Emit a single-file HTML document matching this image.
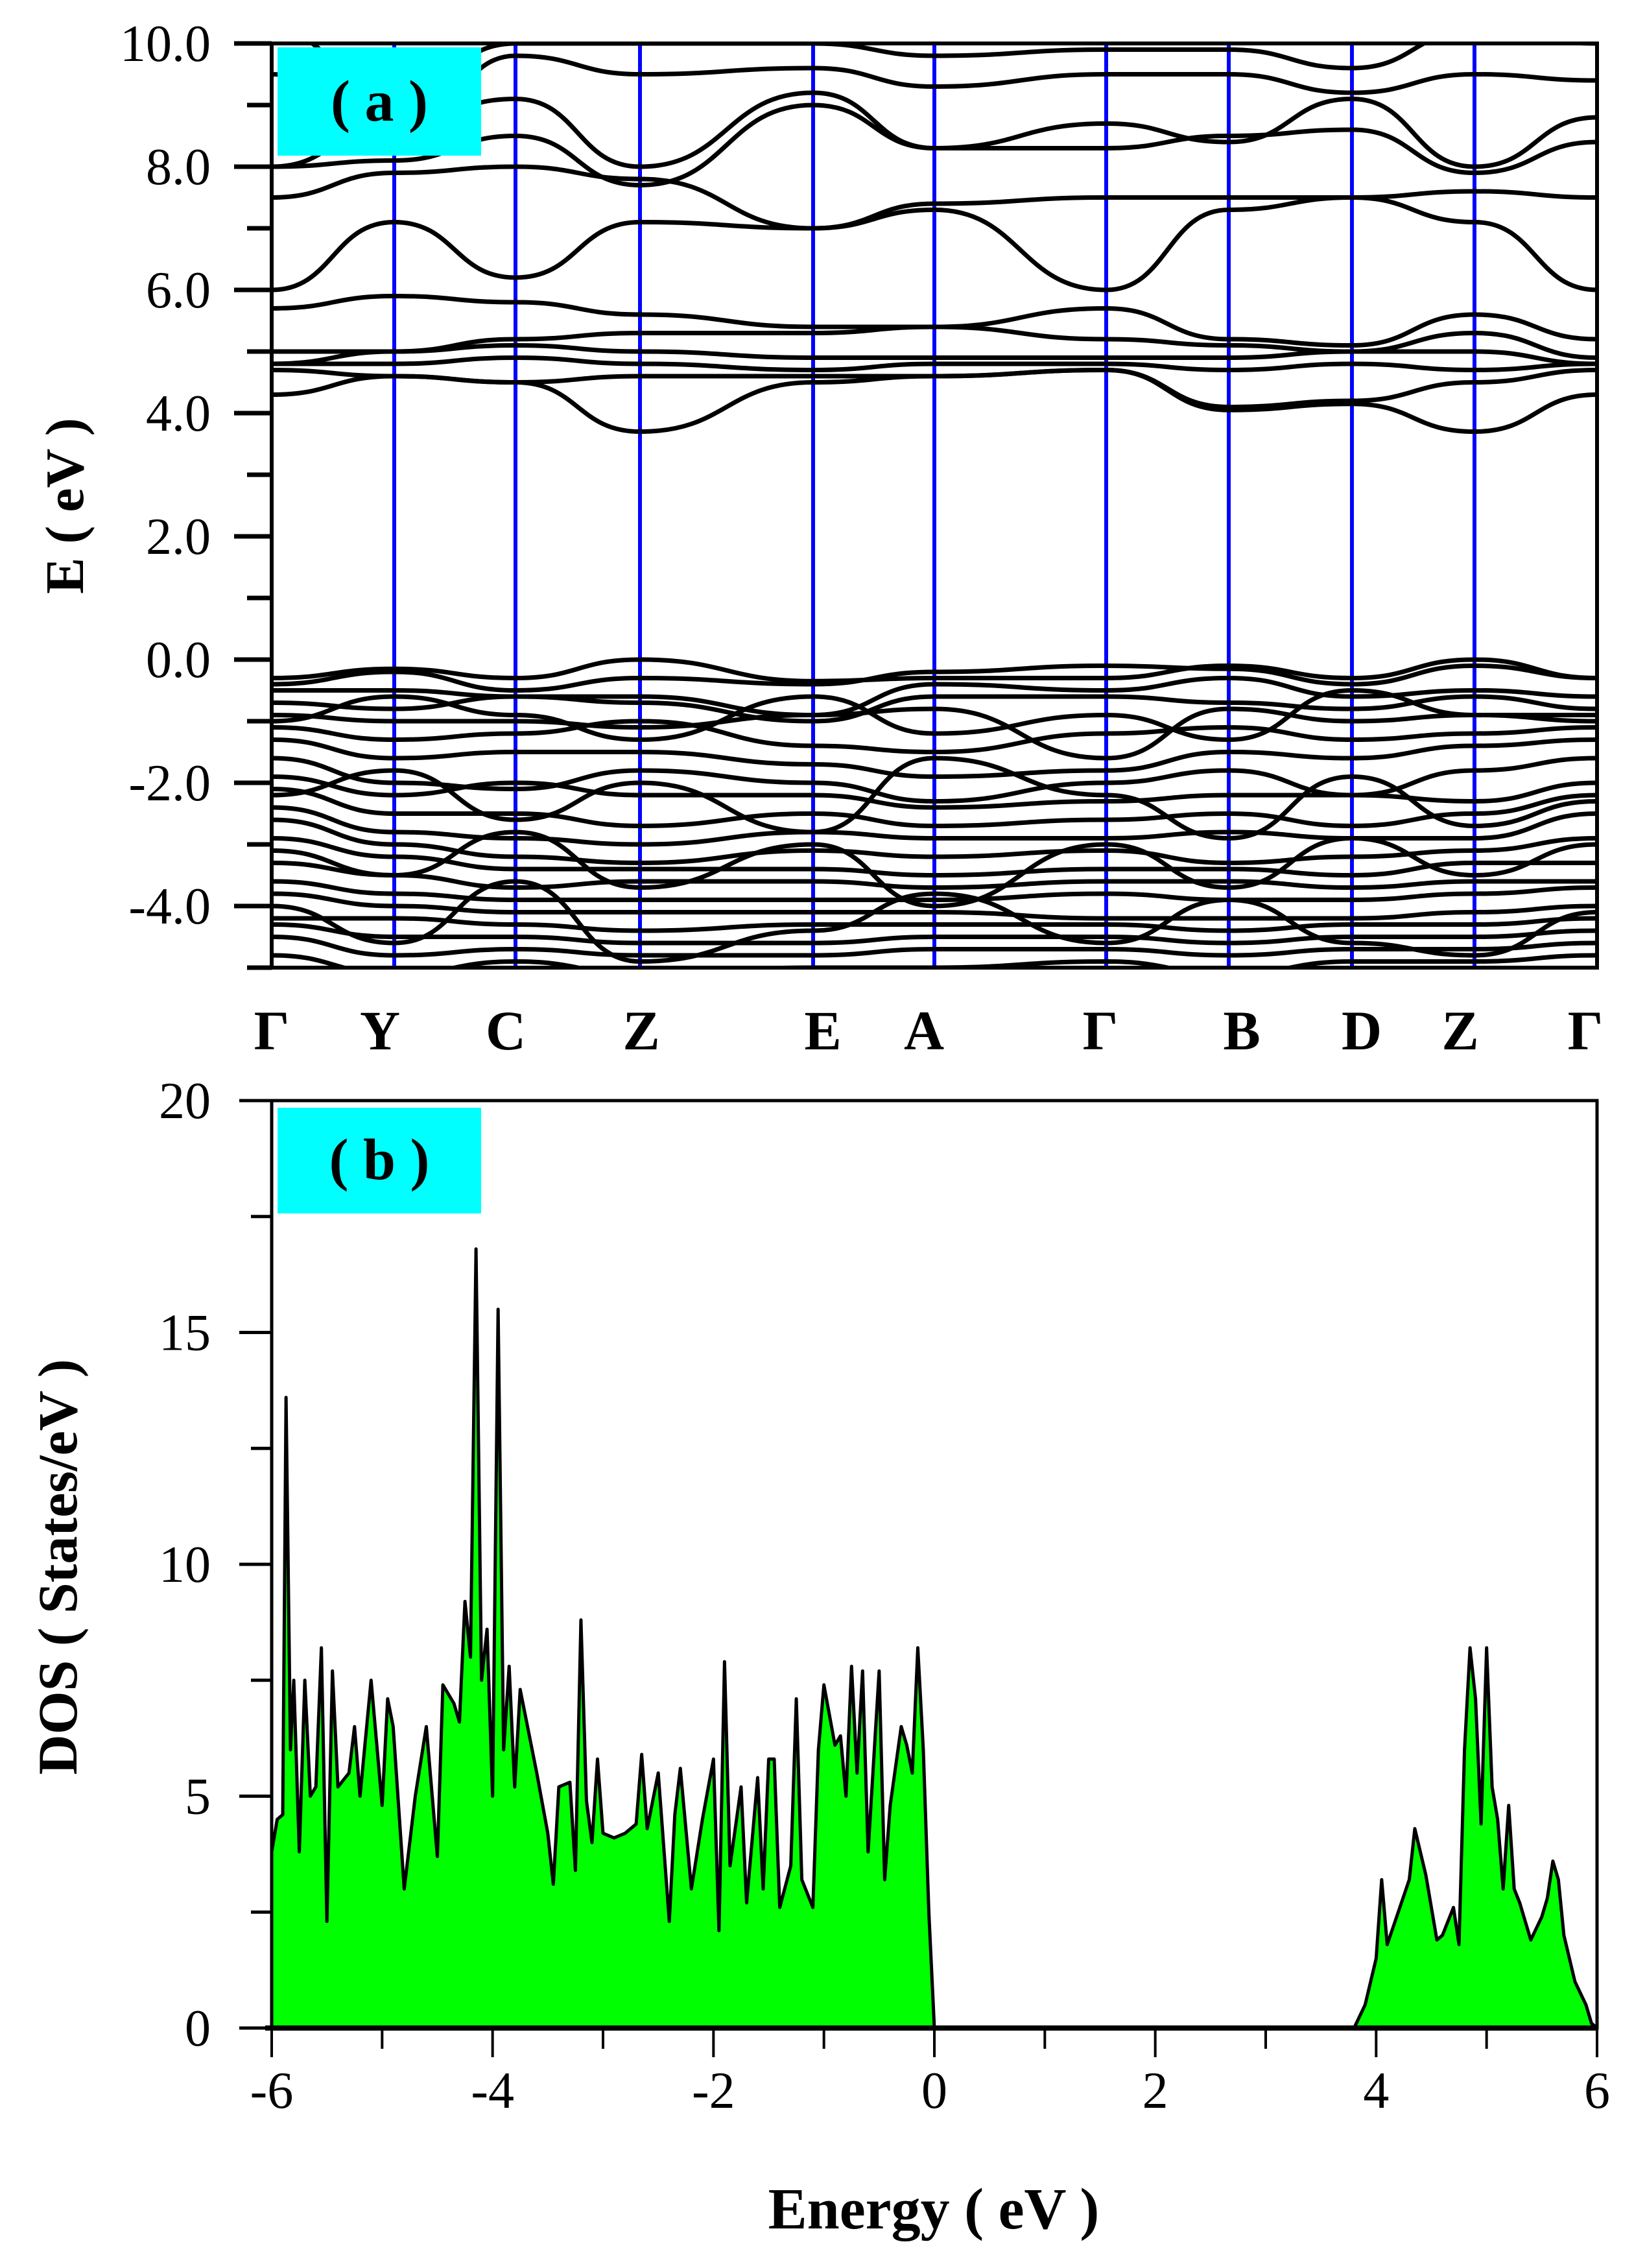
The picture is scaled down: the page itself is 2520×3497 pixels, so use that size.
<!DOCTYPE html>
<html><head><meta charset="utf-8"><style>
html,body{margin:0;padding:0;background:#fff}
svg{display:block}
text{font-family:"Liberation Serif",serif}
</style></head><body>
<svg id="fig" width="2520" height="3497" viewBox="0 0 2520 3497" xmlns="http://www.w3.org/2000/svg">
<defs><clipPath id="clipA"><rect x="419" y="67" width="2044" height="1425"/></clipPath>
<clipPath id="clipB"><rect x="419" y="1697" width="2044" height="1430"/></clipPath></defs>
<g id="panelA"></g>
<g id="panelB"></g>
</svg>
<script>
// ---- Band structure data ----
const kLabels = ["Γ","Y","C","Z","E","A","Γ","B","D","Z","Γ"];
const kPath = [0,189,376,568,835,1022,1287,1476,1666,1855,2044];
const eTicks = [10,8,6,4,2,0,-2,-4];
const eTickLabels = ["10.0","8.0","6.0","4.0","2.0","0.0","-2.0","-4.0"];
const condBands = [
[4.3,4.6,4.5,3.7,4.5,4.6,4.7,4.05,4.15,3.7,4.3],
[4.7,4.6,4.5,4.6,4.6,4.6,4.7,4.1,4.2,4.5,4.7],
[4.8,4.8,4.9,4.8,4.7,4.8,4.8,4.7,4.8,4.7,4.8],
[4.8,5.0,5.1,5.0,4.9,4.9,4.9,4.9,5.0,5.0,4.8],
[5.0,5.0,5.2,5.3,5.3,5.4,5.2,5.1,5.0,5.3,4.9],
[5.7,5.9,5.8,5.6,5.4,5.4,5.7,5.2,5.1,5.6,5.2],
[6.0,7.1,6.2,7.1,7.0,7.3,6.0,7.3,7.5,7.1,6.0],
[7.5,7.9,8.0,7.8,7.0,7.4,7.5,7.5,7.5,7.6,7.5],
[8.0,8.1,8.5,7.7,9.0,8.3,8.3,8.5,8.6,7.9,8.4],
[8.0,8.7,9.1,8.0,9.2,8.3,8.7,8.4,9.1,8.0,8.8],
[9.5,8.4,9.8,9.5,9.6,9.3,9.5,9.5,9.2,9.5,9.4],
[10.2,9.2,10.0,10.0,10.0,9.8,9.9,9.9,9.6,10.2,10.0]
];
const valBands = [
[-0.3,-0.15,-0.3,0.0,-0.35,-0.3,-0.3,-0.1,-0.3,0.0,-0.3],
[-0.4,-0.2,-0.5,-0.3,-0.4,-0.2,-0.1,-0.15,-0.4,-0.1,-0.3],
[-0.5,-0.5,-0.6,-0.6,-0.9,-0.4,-0.5,-0.3,-0.6,-0.5,-0.6],
[-0.7,-0.8,-0.6,-0.7,-1.0,-0.6,-0.6,-0.7,-0.8,-0.6,-0.8],
[-0.9,-1.0,-1.0,-1.1,-0.9,-0.8,-1.6,-0.8,-1.0,-0.9,-0.9],
[-1.1,-1.3,-1.2,-1.0,-1.4,-1.5,-1.2,-1.1,-1.3,-1.2,-1.1],
[-1.3,-1.6,-1.5,-1.5,-1.7,-1.9,-1.8,-1.5,-1.6,-1.4,-1.3],
[-1.6,-2.0,-2.1,-1.8,-2.0,-2.3,-2.0,-1.8,-2.2,-1.8,-1.6],
[-1.9,-2.2,-2.0,-2.2,-2.2,-2.4,-2.3,-2.2,-2.2,-2.3,-2.0],
[-2.1,-2.5,-2.5,-2.7,-2.5,-2.7,-2.6,-2.5,-2.7,-2.5,-2.2],
[-2.4,-2.8,-2.9,-3.0,-2.8,-2.9,-2.9,-2.8,-2.9,-2.9,-2.5],
[-2.6,-3.0,-3.2,-3.3,-3.1,-3.2,-3.1,-3.3,-3.2,-3.1,-2.9],
[-2.9,-3.2,-3.4,-3.4,-3.4,-3.5,-3.4,-3.4,-3.5,-3.3,-3.3],
[-3.3,-3.5,-3.7,-3.6,-3.6,-3.7,-3.6,-3.6,-3.7,-3.6,-3.6],
[-3.6,-3.8,-3.9,-3.9,-3.9,-3.9,-3.8,-3.9,-3.9,-3.8,-3.7],
[-3.8,-4.0,-4.1,-4.1,-4.1,-4.1,-4.2,-4.2,-4.2,-4.1,-4.0],
[-4.2,-4.2,-4.3,-4.4,-4.3,-4.3,-4.3,-4.4,-4.3,-4.3,-4.2],
[-4.3,-4.5,-4.5,-4.6,-4.6,-4.5,-4.5,-4.6,-4.5,-4.5,-4.4],
[-4.5,-4.8,-4.7,-4.8,-4.8,-4.7,-4.7,-4.8,-4.7,-4.7,-4.6],
[-4.8,-5.1,-4.9,-5.1,-5.0,-5.0,-4.9,-5.1,-4.9,-4.9,-4.8],
[-1.0,-0.6,-0.9,-1.3,-0.6,-1.2,-0.9,-1.3,-0.5,-0.9,-1.0],
[-2.2,-1.8,-2.6,-2.0,-2.8,-1.6,-2.2,-2.9,-1.9,-2.7,-2.3],
[-3.1,-3.5,-2.8,-3.7,-3.0,-4.0,-3.0,-3.7,-2.9,-3.5,-3.0],
[-4.0,-4.6,-3.6,-4.9,-4.4,-3.8,-4.6,-3.9,-4.6,-4.8,-4.1]
];
// ---- DOS data ----
const dosEnergy = [-6.0,-5.95,-5.9,-5.87,-5.83,-5.8,-5.75,-5.7,-5.65,-5.6,-5.55,-5.5,-5.45,-5.4,-5.3,-5.25,-5.2,-5.1,-5.0,-4.95,-4.9,-4.8,-4.7,-4.6,-4.5,-4.45,-4.35,-4.3,-4.25,-4.2,-4.15,-4.1,-4.05,-4.0,-3.95,-3.9,-3.85,-3.8,-3.75,-3.7,-3.6,-3.5,-3.45,-3.4,-3.3,-3.25,-3.2,-3.15,-3.1,-3.05,-3.0,-2.9,-2.8,-2.7,-2.65,-2.6,-2.5,-2.4,-2.35,-2.3,-2.2,-2.1,-2.0,-1.95,-1.9,-1.85,-1.75,-1.7,-1.6,-1.55,-1.5,-1.45,-1.4,-1.3,-1.25,-1.2,-1.1,-1.05,-1.0,-0.9,-0.85,-0.8,-0.75,-0.7,-0.65,-0.6,-0.5,-0.45,-0.4,-0.3,-0.25,-0.2,-0.15,-0.1,-0.05,0.0,
3.8,3.9,4.0,4.05,4.1,4.2,4.3,4.35,4.45,4.55,4.6,4.7,4.75,4.8,4.85,4.9,4.95,5.0,5.05,5.1,5.15,5.2,5.25,5.3,5.4,5.5,5.55,5.6,5.65,5.7,5.8,5.9,5.95,6.0];
const dosValue = [3.8,4.5,4.6,13.6,6.0,7.5,3.8,7.5,5.0,5.2,8.2,2.3,7.7,5.2,5.5,6.5,5.0,7.5,4.8,7.1,6.5,3.0,5.0,6.5,3.7,7.4,7.0,6.6,9.2,8.0,16.8,7.5,8.6,5.0,15.5,6.0,7.8,5.2,7.3,6.7,5.5,4.2,3.1,5.2,5.3,3.4,8.8,4.9,4.0,5.8,4.2,4.1,4.2,4.4,5.9,4.3,5.5,2.3,4.6,5.6,3.0,4.5,5.8,2.1,7.9,3.5,5.2,2.7,5.4,3.0,5.8,5.8,2.6,3.5,7.1,3.2,2.6,6.0,7.4,6.1,6.3,5.0,7.8,5.5,7.7,3.8,7.7,3.2,4.8,6.5,6.1,5.5,8.2,6.0,2.5,0.0,
0.0,0.5,1.5,3.2,1.8,2.5,3.2,4.3,3.3,1.9,2.0,2.6,1.8,6.0,8.2,7.1,4.4,8.2,5.2,4.5,3.0,4.8,3.0,2.7,1.9,2.4,2.8,3.6,3.2,2.0,1.0,0.5,0.1,0.0];
const dosXTicks = [-6,-4,-2,0,2,4,6];
const dosYTicks = [0,5,10,15,20];

const NS="http://www.w3.org/2000/svg";
function mk(tag,attrs,parent){const e=document.createElementNS(NS,tag);for(const k in attrs)e.setAttribute(k,attrs[k]);parent.appendChild(e);return e;}

// ---- Panel A ----
const A={l:419,r:2463,t:67,b:1492,emin:-5,emax:10};
const ax=k=>A.l+(k-kPath[0])/(kPath[kPath.length-1]-kPath[0])*(A.r-A.l);
const ay=e=>A.b-(e-A.emin)/(A.emax-A.emin)*(A.b-A.t);
const pa=document.getElementById('panelA');
const bandsG=mk('g',{'clip-path':'url(#clipA)'},pa);


kPath.forEach((k,i)=>{ if(i===0||i===kPath.length-1) return;
 const l=mk('line',{x1:ax(k),x2:ax(k),y1:A.t,y2:A.b,stroke:'#0000ff','stroke-width':6},bandsG);
 
 
});
function bandPath(vals){let d='M'+ax(kPath[0])+','+ay(vals[0]);
 for(let i=1;i<vals.length;i++){const x0=ax(kPath[i-1]),x1=ax(kPath[i]),y0=ay(vals[i-1]),y1=ay(vals[i]);const dx=(x1-x0)/2;
  d+=' C'+(x0+dx)+','+y0+' '+(x1-dx)+','+y1+' '+x1+','+y1;}
 return d;}
condBands.concat(valBands).forEach(b=>{
 const p=mk('path',{d:bandPath(b),fill:'none',stroke:'#000','stroke-width':7},bandsG);
 
 
});
const frameA=mk('rect',{x:A.l,y:A.t,width:A.r-A.l,height:A.b-A.t,fill:'none',stroke:'#000','stroke-width':6},pa);


for(let e=-5;e<=10;e++){
 const major=eTicks.includes(e);
 const t=mk('line',{x1:A.l-(major?58:38),x2:A.l,y1:ay(e),y2:ay(e),stroke:'#000','stroke-width':7},pa);
 
 
}
eTicks.forEach((e,i)=>{
 const t=mk('text',{x:325,y:ay(e)+27,'font-size':80,'text-anchor':'end'},pa);t.textContent=eTickLabels[i];
 
 
});
const ylA=mk('text',{x:0,y:0,'font-size':84,'font-weight':'bold','text-anchor':'middle',transform:'translate(128,780) rotate(-90)'},pa);
ylA.textContent='E ( eV )';


const kLabelX=[419,586,780,989,1269,1425,1697,1915,2100,2252,2445];
kLabels.forEach((s,i)=>{
 const t=mk('text',{x:kLabelX[i],y:1618,'font-size':86,'font-weight':'bold','text-anchor':'middle'},pa);t.textContent=s;
 
 
});
const boxA=mk('rect',{x:428,y:73,width:314,height:167,fill:'#00ffff'},pa);


const la=mk('text',{x:585,y:186,'font-size':90,'font-weight':'bold','text-anchor':'middle'},pa);la.textContent='( a )';



// ---- Panel B ----
const B={l:419,r:2463,t:1697,b:3127,xmin:-6,xmax:6,ymin:0,ymax:20};
const bx=v=>B.l+(v-B.xmin)/(B.xmax-B.xmin)*(B.r-B.l);
const by=v=>B.b-(v-B.ymin)/(B.ymax-B.ymin)*(B.b-B.t);
const pb=document.getElementById('panelB');
const dg=mk('g',{'clip-path':'url(#clipB)'},pb);
function segs(){const out=[];let cur=[];dosEnergy.forEach((e,i)=>{if(i>0&&e-dosEnergy[i-1]>0.5){out.push(cur);cur=[];}cur.push([e,dosValue[i]]);});out.push(cur);return out;}
segs().forEach(s=>{
 let d='M'+bx(s[0][0])+','+by(0);s.forEach(p=>{d+=' L'+bx(p[0])+','+by(p[1]);});d+=' L'+bx(s[s.length-1][0])+','+by(0)+' Z';
 const f=mk('path',{d:d,fill:'#00ff00',stroke:'none'},dg);
 
 
 let d2='M'+bx(s[0][0])+','+by(s[0][1]);s.forEach(p=>{d2+=' L'+bx(p[0])+','+by(p[1]);});
 const l=mk('path',{d:d2,fill:'none',stroke:'#000','stroke-width':5,'stroke-linejoin':'round'},dg);
 
 
});
const frameB=mk('rect',{x:B.l,y:B.t,width:B.r-B.l,height:B.b-B.t,fill:'none',stroke:'#000','stroke-width':5},pb);


const bl=mk('line',{x1:B.l-10,x2:B.r,y1:B.b,y2:B.b,stroke:'#000','stroke-width':8},pb);


for(let v=0;v<=20;v+=2.5){const major=dosYTicks.includes(v);
 const t=mk('line',{x1:B.l-(major?50:32),x2:B.l,y1:by(v),y2:by(v),stroke:'#000','stroke-width':5},pb);
 
 }
dosYTicks.forEach(v=>{const t=mk('text',{x:325,y:by(v)+27,'font-size':80,'text-anchor':'end'},pb);t.textContent=v;
 
 });
for(let v=-6;v<=6;v++){const major=dosXTicks.includes(v);
 const t=mk('line',{x1:bx(v),x2:bx(v),y1:B.b,y2:B.b+(major?45:32),stroke:'#000','stroke-width':4},pb);
 
 }
dosXTicks.forEach(v=>{const t=mk('text',{x:bx(v),y:3250,'font-size':80,'text-anchor':'middle'},pb);t.textContent=v;
 
 });
const xl=mk('text',{x:1440,y:3436,'font-size':90,'font-weight':'bold','text-anchor':'middle'},pb);xl.textContent='Energy ( eV )';


const yl=mk('text',{x:0,y:0,'font-size':86,'font-weight':'bold','text-anchor':'middle',transform:'translate(118,2416) rotate(-90)'},pb);yl.textContent='DOS ( States/eV )';


const boxB=mk('rect',{x:428,y:1708,width:314,height:163,fill:'#00ffff'},pb);


const lb=mk('text',{x:585,y:1818,'font-size':90,'font-weight':'bold','text-anchor':'middle'},pb);lb.textContent='( b )';


</script>
</body></html>
